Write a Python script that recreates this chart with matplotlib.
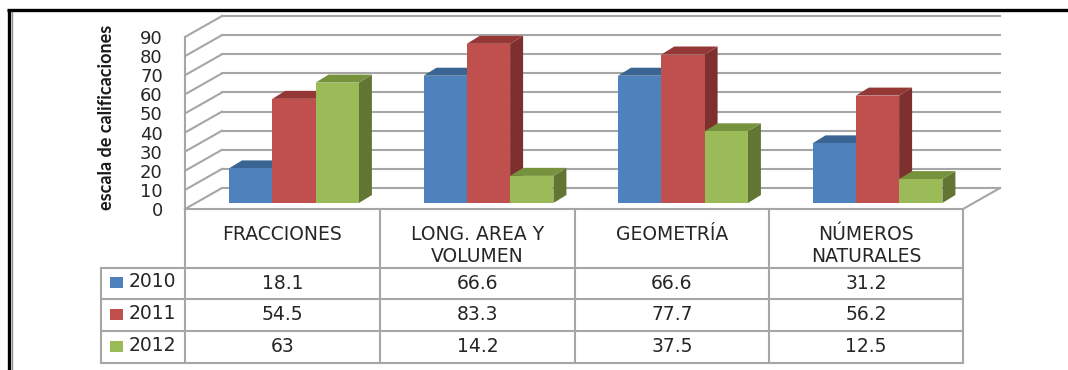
import matplotlib
matplotlib.use("Agg")
import matplotlib.pyplot as plt
from matplotlib.patches import Polygon, Rectangle

categories = ["FRACCIONES", "LONG. AREA Y\nVOLUMEN", "GEOMETRÍA", "NÚMEROS\nNATURALES"]
years = ["2010", "2011", "2012"]
vals_2010 = [18.1, 66.6, 66.6, 31.2]
vals_2011 = [54.5, 83.3, 77.7, 56.2]
vals_2012 = [63, 14.2, 37.5, 12.5]
cell_2010 = ["18.1", "66.6", "66.6", "31.2"]
cell_2011 = ["54.5", "83.3", "77.7", "56.2"]
cell_2012 = ["63", "14.2", "37.5", "12.5"]
yticks = [0, 10, 20, 30, 40, 50, 60, 70, 80, 90]

W, H = 1068, 370
GRID = "#a6a6a6"
TXT = "#262626"
front = ["#4f81bd", "#c0504d", "#9bbb59"]
top = ["#3a6491", "#943735", "#76923c"]
side = ["#305480", "#7d302e", "#637533"]

fig = plt.figure(figsize=(W / 100, H / 100), dpi=100, facecolor="white")

# page layer in pixels: outer frame and the data table
page = fig.add_axes([0, 0, 1, 1])
page.set_xlim(0, W)
page.set_ylim(H, 0)
page.axis("off")

page.plot([7, W], [10, 10], color="black", lw=2.4, solid_capstyle="butt")
page.plot([8.5, 8.5], [9, H], color="black", lw=2.4, solid_capstyle="butt")
page.plot([11.5, 11.5], [12, H], color="#8c8c8c", lw=1.0)

col_x = [185, 380, 575, 769, 963]
row_y = [209, 267.5, 299, 331, 363]
for x in col_x:
    page.plot([x, x], [row_y[0], row_y[-1]], color=GRID, lw=1.5, solid_capstyle="projecting")
page.plot([col_x[0], col_x[-1]], [row_y[0], row_y[0]], color=GRID, lw=1.5, solid_capstyle="projecting")
for y in row_y[1:]:
    page.plot([101, col_x[-1]], [y, y], color=GRID, lw=1.5, solid_capstyle="projecting")
page.plot([101, 101], [row_y[1], row_y[-1]], color=GRID, lw=1.5)

for i, cat in enumerate(categories):
    cx = (col_x[i] + col_x[i + 1]) / 2
    lines = cat.split("\n")
    for j, line in enumerate(lines):
        page.text(cx, 234 + 23 * j, line, ha="center", va="center",
                  fontsize=13.5, family="DejaVu Sans", color=TXT)

rows = [cell_2010, cell_2011, cell_2012]
for r, cells in enumerate(rows):
    cy = (row_y[r + 1] + row_y[r + 2]) / 2
    page.add_patch(Rectangle((110, cy - 6), 13, 11, fc=front[r], ec="none"))
    page.text(129, cy - 1.5, years[r], ha="left", va="center", fontsize=13.5,
              family="DejaVu Sans", color=TXT)
    for i, c in enumerate(cells):
        cx = (col_x[i] + col_x[i + 1]) / 2
        page.text(cx, cy, c, ha="center", va="center", fontsize=13.5,
                  family="DejaVu Sans", color=TXT)

page.text(106, 117, "escala de calificaciones", rotation=90, ha="center", va="center",
          fontsize=13, fontweight="bold", family="Lato", color="#1a1a1a")

# chart layer: x in categories, y in score units on the front plane
x0, x1, y0, y90 = 185, 963, 209, 37
ax = fig.add_axes([x0 / W, 1 - y0 / H, (x1 - x0) / W, (y0 - y90) / H])
ax.patch.set_alpha(0)
ax.set_xlim(0, 4)
ax.set_ylim(0, 90)
for s in ax.spines.values():
    s.set_visible(False)
ax.set_xticks([])
ax.set_yticks(yticks)
ax.tick_params(axis="y", length=0, pad=16, labelsize=13, labelcolor=TXT)

px_x = 4 / (x1 - x0)
px_y = 90 / (y0 - y90)
wall_dx = 37 * px_x
wall_dy = 21 * px_y
bar_dx = 13 * px_x
bar_dy = 8 * px_y
bar_w = 43.3 * px_x
bar_left = 44 * px_x
bar_base = 6 * px_y

# back wall gridlines and the left wall
for v in yticks:
    ax.plot([wall_dx, 4 + wall_dx], [v + wall_dy, v + wall_dy], color=GRID, lw=1.5,
            clip_on=False, zorder=1)
    ax.plot([0, wall_dx], [v, v + wall_dy], color=GRID, lw=1.5, clip_on=False, zorder=1)
ax.plot([4, 4 + wall_dx], [0, wall_dy], color=GRID, lw=1.5, clip_on=False, zorder=1)
ax.plot([0, 0], [0, 90], color=GRID, lw=1.5, clip_on=False, zorder=1)

# extruded bars, painted left to right so nearer faces cover the side faces
z = 2
for i in range(len(categories)):
    for s, series in enumerate([vals_2010, vals_2011, vals_2012]):
        v = series[i]
        l = i + bar_left + s * bar_w
        r = l + bar_w
        b = bar_base
        t = bar_base + v
        ax.add_patch(Polygon([(r, b), (r + bar_dx, b + bar_dy), (r + bar_dx, t + bar_dy), (r, t)],
                             fc=side[s], ec="none", clip_on=False, zorder=z))
        ax.add_patch(Polygon([(l, t), (r, t), (r + bar_dx, t + bar_dy), (l + bar_dx, t + bar_dy)],
                             fc=top[s], ec="none", clip_on=False, zorder=z))
        ax.add_patch(Rectangle((l, b), bar_w, v, fc=front[s], ec="none", clip_on=False, zorder=z + 1))
        z += 2

fig.savefig("out.png", dpi=100)
